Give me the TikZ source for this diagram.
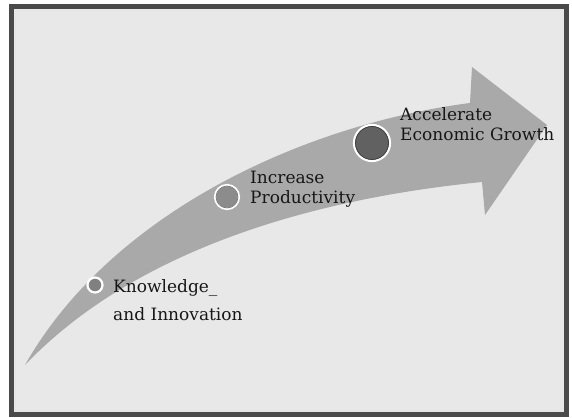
\documentclass[tikz,border=0pt]{standalone}
\usepackage{fontspec}
\setmainfont{DejaVu Serif}
\definecolor{bgfill}{HTML}{E8E8E8}
\definecolor{framec}{HTML}{4A4A4A}
\definecolor{arrowc}{HTML}{A9A9A9}
\definecolor{txtc}{HTML}{161616}
\tikzset{
  ring/.style={circle, draw=white, line width=2.2pt, inner sep=0pt},
  label/.style={anchor=base west, text=txtc, font=\fontsize{17}{19.5}\selectfont, inner sep=0pt, align=left}
}
\begin{document}
\begin{tikzpicture}[x=1pt,y=-1pt]
\useasboundingbox (0,0) rectangle (572,417);
\fill[white] (0,0) rectangle (572,417);
\draw[framec, line width=5pt, fill=bgfill] (11,7) rectangle (566,414);
\draw[white!90!black, line width=0.8pt] (15,11) rectangle (562,410);
% arrow
\fill[arrowc] (25,365) .. controls (110,215) and (300,125) .. (470,103)
  -- (472,67) -- (547,125) -- (485,215) -- (482,182)
  .. controls (300,200) and (130,255) .. (25,365) -- cycle;
% circles
\node[ring, minimum size=15pt, fill=black!50] (c1) at (95,285) {};
\node[ring, minimum size=24pt, fill=black!45, draw=white] (c2) at (227,197) {};
\draw[black!55, line width=0.6pt] (c2.center) circle (11pt);
\node[ring, minimum size=36pt, fill=black!62] (c3) at (372,143) {};
\draw[black!75, line width=0.8pt] (c3.center) circle (16.5pt);
% labels
\node[label] (t1a) at (113,292) {Knowledge\_};
\node[label] (t1b) at (113,320) {and Innovation};
\node[label] (t2) at (250,203) {Increase\\Productivity};
\node[label] (t3) at (400,140) {Accelerate\\Economic Growth};
\end{tikzpicture}
\end{document}
